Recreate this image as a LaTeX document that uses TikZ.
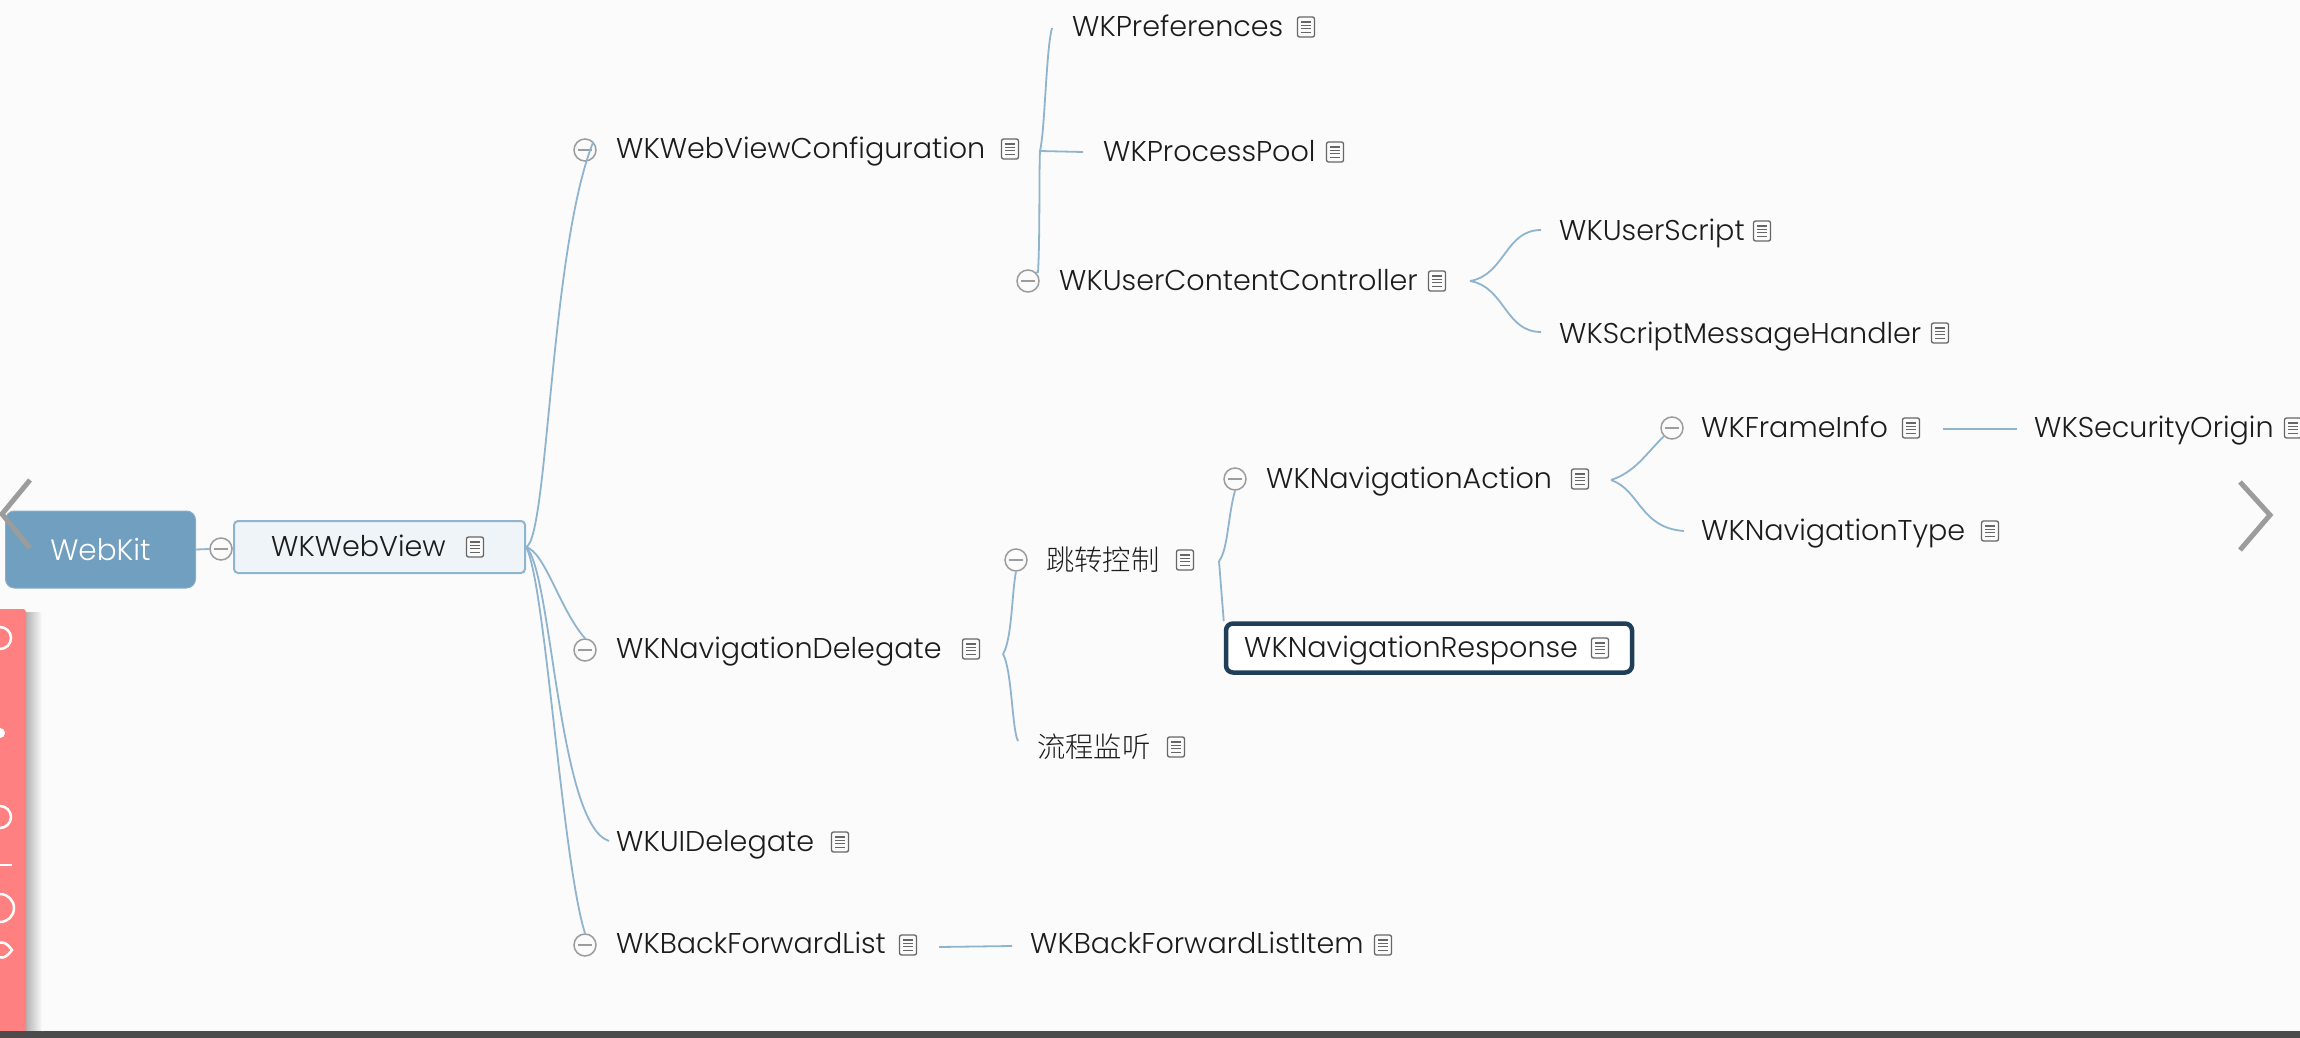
\documentclass[tikz,border=0pt]{standalone}
\usepackage{fontspec}
\setmainfont{Poppins}[UprightFont=* Light]
\newfontfamily\cjk{Noto Sans CJK SC Light}
\usetikzlibrary{calc}
\definecolor{bgc}{HTML}{FBFBFB}
\definecolor{linkc}{HTML}{8FB4CE}
\definecolor{rootc}{HTML}{719FC0}
\definecolor{subc}{HTML}{EEF4F8}
\definecolor{selc}{HTML}{1F3F58}
\definecolor{redc}{HTML}{FF8080}
\definecolor{inkc}{HTML}{1C1C1C}
\definecolor{icoc}{HTML}{666666}
\definecolor{chevc}{HTML}{9C9C9C}
\tikzset{
  x=1pt,y=-1pt,
  label/.style={anchor=west,inner sep=0pt,text=inkc,text height=21pt,text depth=0pt,font=\fontsize{28.6}{32}\selectfont},
  noteico/.style={draw=icoc,line width=1.3pt,rounded corners=2pt,fill=bgc,minimum width=17pt,minimum height=20pt,inner sep=0pt,
    path picture={\foreach \q in {0.25,0.42,0.59,0.76}{\draw[icoc,line width=1.2pt] ($(path picture bounding box.north west)!\q!(path picture bounding box.south west)+(3.5pt,0)$) -- ($(path picture bounding box.north east)!\q!(path picture bounding box.south east)+(-3.5pt,0)$);}}},
  fold/.style={circle,draw=chevc,line width=1.5pt,fill=bgc,minimum size=22pt,inner sep=0pt,
    path picture={\draw[chevc,line width=1.6pt] ($(path picture bounding box.west)+(4pt,0)$) -- ($(path picture bounding box.east)+(-4pt,0)$);}},
  link/.style={draw=linkc,line width=1.8pt},
  chev/.style={draw=chevc,line width=5pt,line join=miter},
  rootbox/.style={rounded corners=9pt,fill=rootc,draw=rootc!85!white,line width=1pt,minimum width=190pt,minimum height=77pt,inner sep=0pt,text=white,font=\fontsize{29.5}{32}\selectfont},
  subbox/.style={rounded corners=4pt,fill=subc,draw=linkc,line width=2pt,minimum width=291pt,minimum height=52pt,inner sep=0pt},
  selbox/.style={rounded corners=7pt,fill=white,draw=selc,line width=4.5pt,minimum width=406pt,minimum height=49pt,inner sep=0pt},
  panelico/.style={draw=white,line width=2.5pt}
}
\begin{document}
\begin{tikzpicture}
\useasboundingbox (0,0) rectangle (2300,1038);
\fill[bgc] (0,0) rectangle (2300,1038);
\fill[black!70] (0,1031) rectangle (2300,1038);
% side panel
\shade[left color=black!30,right color=bgc] (26,612) rectangle (42,1031);
\fill[redc,rounded corners=3pt] (-6,609) rectangle (26,1036);
\fill[black!70] (0,1031) rectangle (42,1038);
\draw[panelico] (0,638) circle (11);
\fill[white] (0,733) circle (5);
\draw[panelico] (0,817) circle (11);
\draw[panelico] (-3,865) -- (12,865);
\draw[panelico] (0,908) circle (14);
\draw[panelico,fill=redc] (-8,950) .. controls (0,938) and (6,942) .. (12,950) .. controls (6,958) and (0,962) .. (-8,950);
% nodes
\node[rootbox] (root) at (100.5,549.5) {WebKit};
\node[subbox] (wv) at (379.5,547) {};
\node[label] (wvt) at (271,546) {WKWebView};
\node[noteico] (wvi) at (475,547) {};
\node[fold] (wvf) at (221,549) {};

\node[fold] (cfgf) at (585,150) {};
\node[label] (cfg) at (616,148) {WKWebViewConfiguration};
\node[noteico] (cfgi) at (1010,149) {};
\node[label] (pref) at (1072,26) {WKPreferences};
\node[noteico] (prefi) at (1306,27) {};
\node[label] (pool) at (1103,151) {WKProcessPool};
\node[noteico] (pooli) at (1335,152) {};
\node[fold] (ucf) at (1028,281) {};
\node[label] (uc) at (1059,280) {WKUserContentController};
\node[noteico] (uci) at (1437,281) {};
\node[label] (us) at (1559,230) {WKUserScript};
\node[noteico] (usi) at (1762,231) {};
\node[label] (sm) at (1559,333) {WKScriptMessageHandler};
\node[noteico] (smi) at (1940,333) {};

\node[fold] (ndf) at (585,650) {};
\node[label] (nd) at (616,648) {WKNavigationDelegate};
\node[noteico] (ndi) at (971,649) {};
\node[fold] (jf) at (1016,560) {};
\node[label,font=\cjk\fontsize{28.3}{30}\selectfont] (j) at (1046,560) {跳转控制};
\node[noteico] (ji) at (1185,560) {};
\node[label,font=\cjk\fontsize{28.3}{30}\selectfont] (m) at (1037,747) {流程监听};
\node[noteico] (mi) at (1176,747) {};
\node[fold] (naf) at (1235,479) {};
\node[label] (na) at (1266,478) {WKNavigationAction};
\node[noteico] (nai) at (1580,479) {};
\node[fold] (fif) at (1672,428) {};
\node[label] (fi) at (1701,427) {WKFrameInfo};
\node[noteico] (fii) at (1911,428) {};
\node[label] (so) at (2034,427) {WKSecurityOrigin};
\node[noteico] (soi) at (2293,428) {};
\node[label] (nt) at (1701,530) {WKNavigationType};
\node[noteico] (nti) at (1990,531) {};
\node[selbox] (nrb) at (1429,648) {};
\node[label] (nr) at (1244,647) {WKNavigationResponse};
\node[noteico] (nri) at (1600,648) {};

\node[label] (ui) at (616,841) {WKUIDelegate};
\node[noteico] (uii) at (840,842) {};
\node[fold] (bff) at (585,945) {};
\node[label] (bf) at (616,943) {WKBackForwardList};
\node[noteico] (bfi) at (908,945) {};
\node[label] (bfit) at (1030,943) {WKBackForwardListItem};
\node[noteico] (bfiti) at (1383,945) {};

% free connector ends
\coordinate (hubw) at (526,547);
\coordinate (hubc) at (1040,151);
\coordinate (endpref) at (1052,28);
\coordinate (endpool) at (1083,152);
\coordinate (hubu) at (1470,281);
\coordinate (endus) at (1541,230);
\coordinate (endsm) at (1541,332);
\coordinate (huba) at (1611,480);
\coordinate (endnt) at (1684,531);
\coordinate (hubj) at (1219,561);
\coordinate (hubd) at (1003,654);
\coordinate (endm) at (1018,741);
\coordinate (endui) at (609,841);
\coordinate (fs1) at (1943,429);
\coordinate (fs2) at (2017,429);
\coordinate (bb1) at (939,947);
\coordinate (bb2) at (1012,946);

% connectors
\path[link] (hubw) .. controls (548,540) and (550,250) .. (cfgf.north east);
\path[link] (root.east) -- (wvf.west);
\path[link] (wvf.east) -- (wv.west);
\path[link] (hubw) .. controls (545,552) and (560,610) .. (ndf.north);
\path[link] (hubw) .. controls (552,570) and (558,825) .. (endui);
\path[link] (hubw) .. controls (545,580) and (562,860) .. (bff.north);
\path[link] (hubc) .. controls (1045,130) and (1046,50) .. (endpref);
\path[link] (hubc) -- (endpool);
\path[link] (hubc) .. controls (1039,170) and (1040,240) .. (1038,272) -- (ucf.north east);
\path[link] (hubu) .. controls (1505,275) and (1505,230) .. (endus);
\path[link] (hubu) .. controls (1505,287) and (1505,332) .. (endsm);
\path[link] (huba) .. controls (1635,472) and (1645,455) .. (fif.south west);
\path[link] (huba) .. controls (1640,490) and (1640,528) .. (endnt);
\path[link] (fs1) -- (fs2);
\path[link] (hubj) .. controls (1228,550) and (1228,515) .. (naf.south);
\path[link] (hubj) -- (nrb.north west);
\path[link] (hubd) .. controls (1012,640) and (1012,590) .. (jf.south);
\path[link] (hubd) .. controls (1012,670) and (1012,730) .. (endm);
\path[link] (bb1) -- (bb2);

% navigation chevrons
\draw[chev] (30,480) -- (2,514) -- (30,548);
\draw[chev] (2240,482) -- (2270,515) -- (2240,550);
\end{tikzpicture}
\end{document}
